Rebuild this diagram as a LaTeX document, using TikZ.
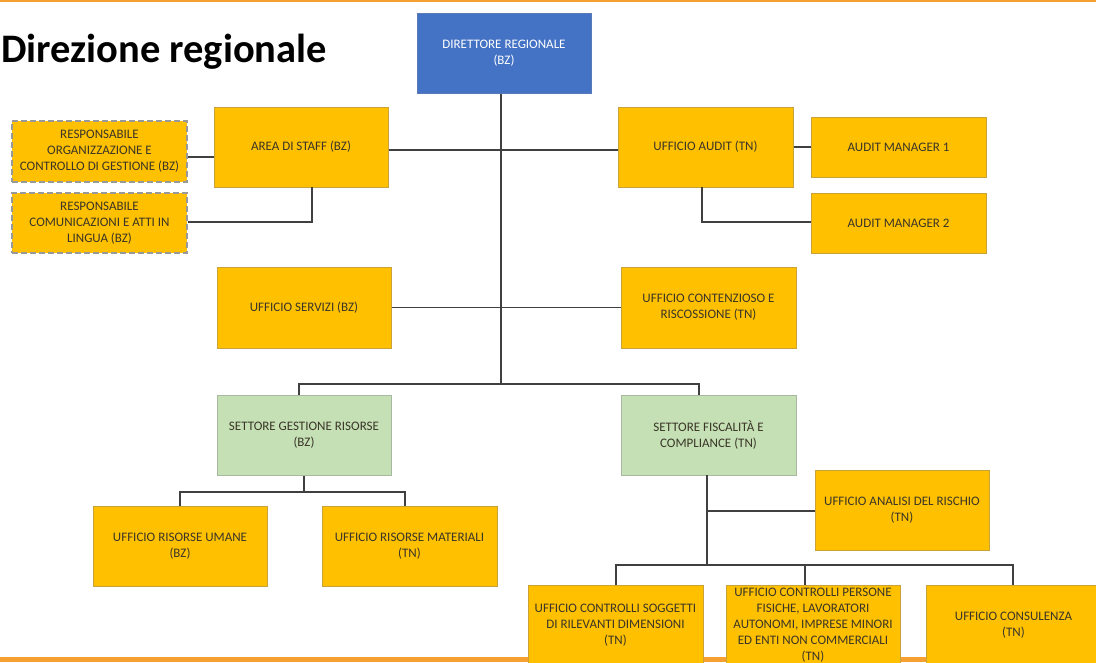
\documentclass[tikz,border=0pt]{standalone}
\usepackage{fontspec}
\setmainfont{Carlito}
\definecolor{ybox}{HTML}{FFC000}
\definecolor{ybord}{HTML}{C9A23A}
\definecolor{gbox}{HTML}{C5E0B4}
\definecolor{gbord}{HTML}{A9B8A0}
\definecolor{bbox}{HTML}{4472C4}
\definecolor{bbord}{HTML}{5A7BB8}
\definecolor{txt}{HTML}{3A3528}
\definecolor{lin}{HTML}{404040}
\definecolor{orng}{HTML}{F5A030}
\tikzset{
  base/.style={rectangle, inner sep=2pt, align=center, font=\fontsize{13}{16}\selectfont, text=txt, line width=1pt},
  ybx/.style={base, fill=ybox, draw=ybord},
  dbx/.style={base, fill=ybox, draw=gray!80, dash pattern=on 6pt off 3pt, line width=1.3pt},
  gbx/.style={base, fill=gbox, draw=gbord},
  blx/.style={base, fill=bbox, draw=bbord, text=white},
  conn/.style={draw=lin, line width=1.3pt},
  sz/.style n args={2}{minimum width=#1pt, minimum height=#2pt}
}
\begin{document}
\begin{tikzpicture}[x=1pt,y=-1pt]
\useasboundingbox (0,0) rectangle (1096,662);
\clip (0,0) rectangle (1096,662);
\fill[orng] (0,0) rectangle (1096,2);
\fill[orng] (0,657) rectangle (1096,662);
\node[anchor=base west, font=\fontsize{40.5}{44}\selectfont\bfseries, text=black, inner sep=0pt] (title) at (1,62) {Direzione regionale};

% nodes
\node[blx, sz={174}{80}] (dir) at (504,53) {DIRETTORE REGIONALE\\(BZ)};
\node[ybx, sz={174}{80}] (staff) at (301,147) {AREA DI STAFF (BZ)};
\node[dbx, sz={175}{61}] (rorg) at (99.5,151.5) {RESPONSABILE\\ORGANIZZAZIONE E\\CONTROLLO DI GESTIONE (BZ)};
\node[dbx, sz={175}{60}] (rcom) at (99.5,223) {RESPONSABILE\\COMUNICAZIONI E ATTI IN\\LINGUA (BZ)};
\node[ybx, sz={175}{80}] (audit) at (705.5,147) {UFFICIO AUDIT (TN)};
\node[ybx, sz={175}{60}] (am1) at (898.5,147) {AUDIT MANAGER 1};
\node[ybx, sz={175}{60}] (am2) at (898.5,223) {AUDIT MANAGER 2};
\node[ybx, sz={174}{81}] (serv) at (304,307.5) {UFFICIO SERVIZI (BZ)};
\node[ybx, sz={175}{81}] (cont) at (708.5,307.5) {UFFICIO CONTENZIOSO E\\RISCOSSIONE (TN)};
\node[gbx, sz={174}{80}] (sgr) at (304,435) {SETTORE GESTIONE RISORSE\\(BZ)};
\node[gbx, sz={175}{80}] (sfc) at (708.5,435) {SETTORE FISCALITÀ E\\COMPLIANCE (TN)};
\node[ybx, sz={174}{80}] (ru) at (180,546) {UFFICIO RISORSE UMANE\\(BZ)};
\node[ybx, sz={175}{80}] (rm) at (409.5,546) {UFFICIO RISORSE MATERIALI\\(TN)};
\node[ybx, sz={174}{80}] (ar) at (902,510) {UFFICIO ANALISI DEL RISCHIO\\(TN)};
\node[ybx, sz={175}{80}] (cs) at (615.5,625) {UFFICIO CONTROLLI SOGGETTI\\DI RILEVANTI DIMENSIONI\\(TN)};
\node[ybx, sz={174}{80}] (cp) at (813,625) {UFFICIO CONTROLLI PERSONE\\FISICHE, LAVORATORI\\AUTONOMI, IMPRESE MINORI\\ED ENTI NON COMMERCIALI\\(TN)};
\node[ybx, sz={175}{80}] (cons) at (1013.5,625) {UFFICIO CONSULENZA\\(TN)};

% coordinates
\coordinate (trunkend) at (501,384);
\coordinate (hl) at (299,384);
\coordinate (hr) at (699,384);
\coordinate (gj) at (304,492);
\coordinate (fj) at (707,565);
\coordinate (fa) at (707,511);

% connectors
\draw[conn] (dir.south -| trunkend) -- (trunkend);
\draw[conn] (staff.east |- 0,150) -- (audit.west |- 0,150);
\draw[conn] (serv.east) -- (cont.west);
\draw[conn] (hl |- sgr.north) -- (hl) -- (hr) -- (hr |- sfc.north);
\draw[conn] (rorg.east |- 0,157) -- (staff.west |- 0,157);
\draw[conn] (312,187) -- (312,222) -- (rcom.east |- 0,222);
\draw[conn] (audit.east) -- (am1.west);
\draw[conn] (702,187) -- (702,222) -- (am2.west |- 0,222);
\draw[conn] (sgr.south) -- (gj);
\draw[conn] (180,506) -- (180,492) -- (405,492) -- (405,506);
\draw[conn] (707,475) -- (fj);
\draw[conn] (fa) -- (ar.west |- fa);
\draw[conn] (616,585) -- (616,565) -- (1013,565) -- (1013,585);
\draw[conn] (805,565) -- (805,585);
\end{tikzpicture}
\end{document}
